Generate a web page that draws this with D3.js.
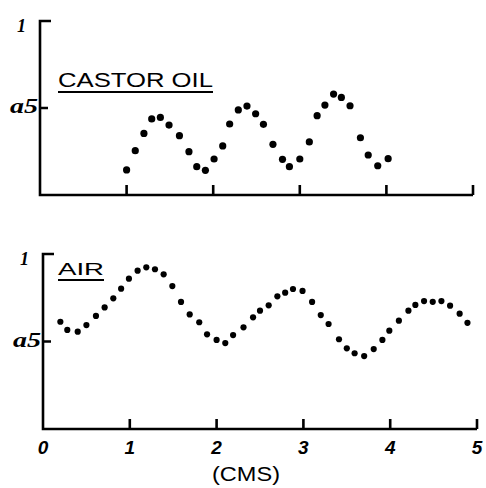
<!DOCTYPE html>
<html>
<head>
<meta charset="utf-8">
<script src="https://cdn.jsdelivr.net/npm/d3@7"></script>
<style>
body { margin: 0; background: #fff; }
svg { display: block; }
</style>
</head>
<body>
<div id="chart"></div>
<script>
// data
var castorX = [1.00,1.10,1.20,1.29,1.39,1.49,1.61,1.72,1.81,1.91,2.01,2.11,2.19,2.29,2.39,2.49,2.58,2.69,2.80,2.88,3.00,3.11,3.20,3.29,3.39,3.48,3.58,3.70,3.79,3.90,4.02];
var castorY = [0.144,0.255,0.354,0.437,0.446,0.402,0.341,0.249,0.163,0.142,0.207,0.282,0.408,0.489,0.511,0.467,0.406,0.291,0.205,0.163,0.207,0.305,0.456,0.517,0.580,0.561,0.513,0.329,0.230,0.168,0.209];

var airX = [0.20,0.28,0.40,0.50,0.61,0.71,0.81,0.90,0.99,1.09,1.19,1.29,1.39,1.49,1.59,1.69,1.80,1.89,2.00,2.10,2.19,2.31,2.42,2.50,2.60,2.70,2.79,2.88,2.99,3.10,3.20,3.29,3.41,3.50,3.59,3.70,3.81,3.91,3.99,4.10,4.21,4.29,4.39,4.49,4.59,4.69,4.80,4.89];
var airY = [0.613,0.566,0.556,0.594,0.646,0.695,0.747,0.802,0.859,0.905,0.924,0.913,0.884,0.817,0.726,0.655,0.610,0.541,0.509,0.491,0.537,0.581,0.638,0.676,0.707,0.758,0.779,0.800,0.789,0.726,0.651,0.600,0.513,0.461,0.433,0.417,0.457,0.509,0.562,0.619,0.676,0.709,0.731,0.727,0.731,0.705,0.659,0.607];

var xTicks = [0,1,2,3,4,5];
var xTickLabels = ["0","1","2","3","4","5"];
var yTicks = [0.5,1];
var yTickLabels = ["a5","1"];

var W = 486, H = 488;
var svg = d3.select("#chart").append("svg")
    .attr("width", W).attr("height", H);

function panel(opt){
    var x = d3.scaleLinear().domain([0,5]).range([opt.left, opt.right]);
    var y = d3.scaleLinear().domain([0,1]).range([opt.bottom, opt.top]);
    var g = svg.append("g");

    // axis frame + ticks all in one path
    var p = d3.path();
    p.moveTo(x(0) + 11, y(1));
    p.lineTo(x(0), y(1));
    p.lineTo(x(0), y(0));
    p.lineTo(x(5), y(0));
    xTicks.slice(1).forEach(function(d){
        p.moveTo(x(d), y(0));
        p.lineTo(x(d), y(0) - 10);
    });
    p.moveTo(x(0), y(0.5));
    p.lineTo(x(0) + 8, y(0.5));
    g.append("path")
        .attr("d", p.toString())
        .attr("fill","none").attr("stroke","#000").attr("stroke-width",2.6);

    // y labels
    g.append("text")
        .attr("x", x(0) - 30).attr("y", y(0.5) + 5)
        .attr("font-family","Liberation Serif, serif")
        .attr("font-style","italic").attr("font-weight","bold")
        .attr("font-size", 20)
        .attr("textLength", 28).attr("lengthAdjust","spacingAndGlyphs")
        .text(yTickLabels[0]);
    g.append("text")
        .attr("x", x(0) - 23).attr("y", y(1) + 11)
        .attr("font-family","Liberation Serif, serif")
        .attr("font-style","italic").attr("font-weight","bold")
        .attr("font-size", 18)
        .text(yTickLabels[1]);

    if (opt.xLabels){
        g.selectAll(".xl").data(xTicks).enter().append("text")
            .attr("x", d => x(d)).attr("y", y(0) + 25)
            .attr("text-anchor","middle")
            .attr("font-family","Liberation Sans, sans-serif")
            .attr("font-style","italic").attr("font-weight","bold")
            .attr("font-size", 19)
            .text((d,i) => xTickLabels[i]);
    }

    // title with underline
    g.append("text")
        .attr("x", opt.titleX).attr("y", opt.titleY)
        .attr("font-family","Liberation Sans, sans-serif")
        .attr("font-size", opt.titleSize)
        .attr("textLength", opt.ulWidth)
        .attr("lengthAdjust", "spacingAndGlyphs")
        .text(opt.title);
    g.append("line")
        .attr("x1", opt.titleX).attr("x2", opt.titleX + opt.ulWidth)
        .attr("y1", opt.titleY + 5).attr("y2", opt.titleY + 5)
        .attr("stroke","#000").attr("stroke-width",2.2);

    // dots
    g.selectAll(".dot").data(opt.xs).enter().append("circle")
        .attr("cx", d => x(d))
        .attr("cy", (d,i) => y(opt.ys[i]))
        .attr("r", opt.r)
        .attr("fill","#000");
}

panel({left:40, right:473, top:21, bottom:195,
    xs: castorX, ys: castorY, r: 3.6,
    title: "CASTOR OIL", titleX: 58, titleY: 87, titleSize: 20, ulWidth: 155,
    xLabels: false});

panel({left:43, right:477, top:254, bottom:429,
    xs: airX, ys: airY, r: 3.1,
    title: "AIR", titleX: 58, titleY: 275, titleSize: 17, ulWidth: 46,
    xLabels: true});

svg.append("text")
    .attr("x", 212).attr("y", 481)
    .attr("font-family","Liberation Sans, sans-serif")
    .attr("font-size", 21)
    .attr("textLength", 68)
    .attr("lengthAdjust", "spacingAndGlyphs")
    .text("(CMS)");
</script>
</body>
</html>
